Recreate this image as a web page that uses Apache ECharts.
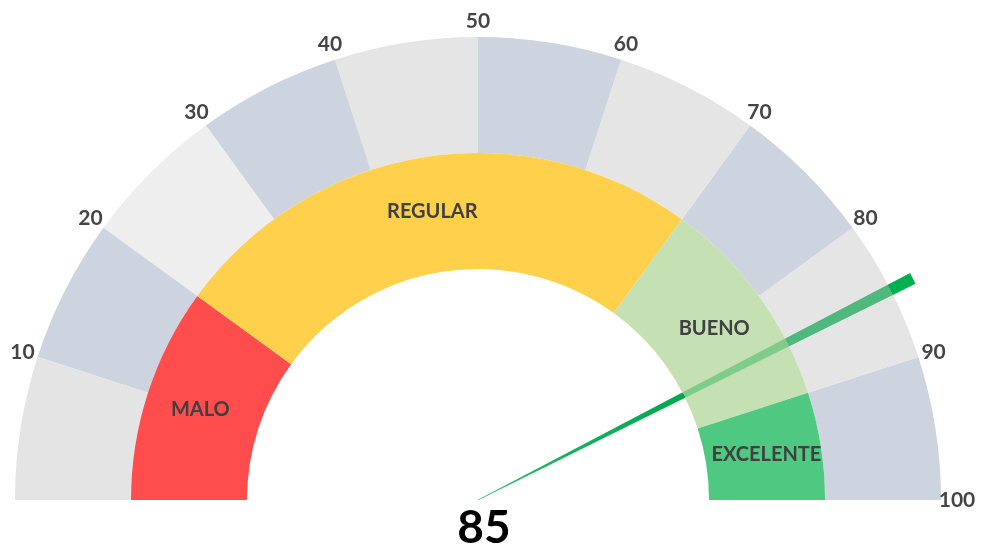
<!DOCTYPE html>
<html>
<head>
<meta charset="utf-8">
<script src="https://cdn.jsdelivr.net/npm/echarts@6/dist/echarts.min.js"></script>
<style>
html,body{margin:0;padding:0;background:#fff;}
#chart{width:981px;height:549px;}
</style>
</head>
<body>
<div id="chart"></div>
<script>
// ---- data ----
const scaleMin = 0;
const scaleMax = 100;
const tickLabels = [10, 20, 30, 40, 50, 60, 70, 80, 90, 100];
const bandNames = ['MALO', 'REGULAR', 'BUENO', 'EXCELENTE'];
const bandWidths = [20, 50, 20, 10];
const needleValue = 85;

// ---- styles ----
const outerColors = ['#e4e4e4', '#cdd4df', '#eeeeee', '#cdd4df', '#e5e5e5',
                     '#cdd4df', '#e5e5e5', '#cdd4df', '#e5e5e5', '#cdd4df'];
const bandColors = ['#ff4d4d', '#ffd04b', '#c5e0b3', '#4fc882'];
const FONT = 'Lato, "Liberation Sans", sans-serif';

const cx = 478, cy = 500;
const outerR = 463, outerW = 116;
const innerR = 347, innerHole = 231;
const needleLen = 488;
const labelR = 479;

const outerStops = outerColors.map((c, i) => [(i + 1) / outerColors.length, c]);

const pieData = bandNames.map((n, i) => ({
  name: n, value: bandWidths[i], itemStyle: { color: bandColors[i] }
}));
pieData.push({
  name: '', value: bandWidths.reduce((a, b) => a + b, 0),
  itemStyle: { color: 'rgba(0,0,0,0)' }, label: { show: false }
});

const tip = (needleLen - outerR) / needleLen;
const mid = (needleLen - innerR) / needleLen;
const inn = (needleLen - innerHole) / needleLen;

const chart = echarts.init(document.getElementById('chart'));
chart.setOption({
  animation: false,
  backgroundColor: '#ffffff',
  polar: { center: [cx, cy], radius: labelR },
  angleAxis: {
    type: 'value', min: scaleMin, max: scaleMax * 2,
    startAngle: 180, clockwise: true, show: false
  },
  radiusAxis: { type: 'value', min: 0, max: 1, show: false },
  series: [
    {
      type: 'gauge',
      center: [cx, cy],
      radius: outerR,
      startAngle: 180,
      endAngle: 0,
      min: scaleMin,
      max: scaleMax,
      splitNumber: 10,
      axisLine: { lineStyle: { width: outerW, color: outerStops } },
      splitLine: { show: false },
      axisTick: { show: false },
      axisLabel: { show: false },
      pointer: { show: false },
      anchor: { show: false },
      title: { show: false },
      detail: { show: false },
      data: [{ value: 0 }]
    },
    {
      type: 'scatter',
      coordinateSystem: 'polar',
      symbolSize: 1,
      silent: true,
      itemStyle: { color: 'rgba(0,0,0,0)', opacity: 1 },
      label: {
        show: true,
        position: 'inside',
        color: '#454545',
        opacity: 1,
        fontSize: 21,
        fontWeight: 'bold',
        fontFamily: FONT,
        formatter: p => String(p.value[1])
      },
      data: tickLabels.map(v => [1, v])
    },
    {
      type: 'pie',
      center: [cx, cy],
      radius: [innerHole, innerR],
      startAngle: 180,
      clockwise: true,
      silent: true,
      label: {
        show: true,
        position: 'inside',
        color: '#404040',
        fontSize: 20,
        fontWeight: 'bold',
        fontFamily: FONT,
        formatter: '{b}'
      },
      labelLine: { show: false },
      emphasis: { disabled: true },
      data: pieData
    },
    {
      type: 'gauge',
      z: 10,
      center: [cx, cy],
      radius: needleLen,
      startAngle: 180,
      endAngle: 0,
      min: scaleMin,
      max: scaleMax,
      axisLine: { show: false },
      splitLine: { show: false },
      axisTick: { show: false },
      axisLabel: { show: false },
      anchor: { show: false },
      title: { show: false },
      pointer: {
        show: true,
        icon: 'path://M0,0 L12,0 L6.3,100 L5.7,100 Z',
        length: '100%',
        width: 12,
        offsetCenter: [0, 0],
        itemStyle: {
          color: {
            type: 'linear', x: 0, y: 0, x2: 0, y2: 1,
            colorStops: [
              { offset: 0, color: '#00b050' },
              { offset: tip, color: '#00b050' },
              { offset: tip, color: '#4fb87c' },
              { offset: mid, color: '#4fb87c' },
              { offset: mid, color: '#7fcb8c' },
              { offset: inn, color: '#7fcb8c' },
              { offset: inn, color: '#00a84f' },
              { offset: 1, color: '#2ab869' }
            ]
          }
        }
      },
      detail: {
        show: true,
        offsetCenter: [6, 28],
        color: '#000000',
        fontSize: 46,
        fontWeight: 'bold',
        fontFamily: FONT,
        formatter: '{value}'
      },
      data: [{ value: needleValue }]
    }
  ]
});
</script>
</body>
</html>
